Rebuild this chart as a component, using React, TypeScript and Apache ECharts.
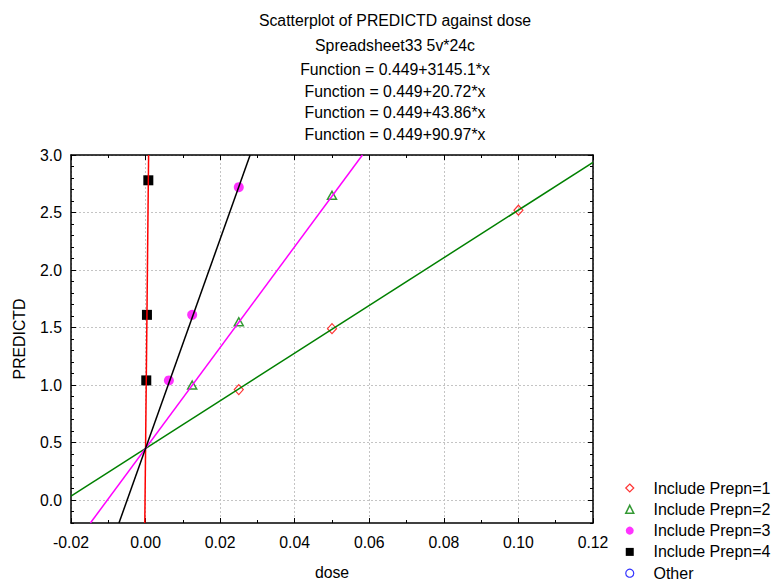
import React, { useEffect, useRef } from 'react';
import * as echarts from 'echarts';

// ---- data ----
const titleLines = [
  'Scatterplot of PREDICTD against dose',
  'Spreadsheet33 5v*24c',
  'Function = 0.449+3145.1*x',
  'Function = 0.449+20.72*x',
  'Function = 0.449+43.86*x',
  'Function = 0.449+90.97*x',
];
const fitIntercept = 0.449;
const fitSlopes = [3145.1, 20.72, 43.86, 90.97];
const fitColors = ['#ff0000', '#008000', '#ff00ff', '#000000'];

const seriesNames = ['Include Prepn=1', 'Include Prepn=2', 'Include Prepn=3', 'Include Prepn=4', 'Other'];
const prep1Dose = [0.025, 0.05, 0.1];
const prep1Pred = [0.96, 1.49, 2.52];
const prep2Dose = [0.0125, 0.025, 0.05];
const prep2Pred = [1.0, 1.55, 2.65];
const prep3Dose = [0.00625, 0.0125, 0.025];
const prep3Pred = [1.04, 1.61, 2.72];
const prep4Dose = [0.00019, 0.00037, 0.00074];
const prep4Pred = [1.04, 1.61, 2.78];

const xMin = -0.02;
const xMax = 0.12;
const xInterval = 0.02;
const yMin = -0.2;
const yMax = 3.0;
const yTickValues = [0, 0.5, 1.0, 1.5, 2.0, 2.5, 3.0];

const FONT = '"Liberation Sans", Arial, sans-serif';
const FS = 15.8;

function zip(xs: number[], ys: number[]) {
  return xs.map((x, i) => [x, ys[i]]);
}

function fitSegment(b: number, m: number) {
  const xa = (yMin - b) / m;
  const xb = (yMax - b) / m;
  const x0 = Math.max(xMin, Math.min(xa, xb));
  const x1 = Math.min(xMax, Math.max(xa, xb));
  return [[x0, b + m * x0], [x1, b + m * x1]];
}

export default function App() {
  const ref = useRef<HTMLDivElement>(null);
  useEffect(() => {
    if (!ref.current) return;
    const chart = echarts.init(ref.current, null, { renderer: 'svg' });
    const axisLine = { show: true, onZero: false, lineStyle: { color: '#000', width: 1.5 } };
    const noAxisLine = { show: false, onZero: false };
    const tickLine = { color: '#000', width: 1 };
    const splitLine = { show: true, lineStyle: { color: '#c4c4c4', width: 1, type: [2, 2] as any } };
    const labelStyle = { color: '#000', fontSize: FS, fontFamily: FONT };

    const xBase = { type: 'value', min: xMin, max: xMax, interval: xInterval };
    const yBase = { type: 'value', min: yMin, max: yMax };

    const lineSeries = fitSlopes.map((m, i) => ({
      type: 'line',
      name: 'fit' + i,
      data: fitSegment(fitIntercept, m),
      symbol: 'none',
      clip: true,
      lineStyle: { color: fitColors[i], width: 1.5 },
      z: 5,
      silent: true,
    }));

    const option: any = {
      animation: false,
      backgroundColor: '#fff',
      graphic: titleLines.map((t, i) => ({
        type: 'text',
        x: 395,
        y: [20.7, 45.7, 69.3, 91, 112.7, 134.3][i],
        style: { text: t, fill: '#000', font: `${FS}px ${FONT}`, align: 'center', verticalAlign: 'middle' },
      })),
      grid: { left: 71, right: 183, top: 155, bottom: 62, containLabel: false },
      legend: {
        orient: 'vertical',
        left: 625,
        top: 480,
        padding: 0,
        itemWidth: 8,
        itemHeight: 8,
        itemGap: 5.3,
        selectedMode: false,
        textStyle: { color: '#000', fontSize: 16, fontFamily: FONT, lineHeight: 16, padding: [0, 0, 0, 14.7] },
        data: [
          { name: seriesNames[0], icon: 'diamond', itemStyle: { color: 'rgba(0,0,0,0)', borderColor: '#ff0000', borderWidth: 1.2 } },
          { name: seriesNames[1], icon: 'triangle', itemStyle: { color: 'rgba(0,0,0,0)', borderColor: '#008000', borderWidth: 1.5 } },
          { name: seriesNames[2], icon: 'circle', itemStyle: { color: '#ff00ff', borderWidth: 0 } },
          { name: seriesNames[3], icon: 'rect', itemStyle: { color: '#000', borderWidth: 0 } },
          { name: seriesNames[4], icon: 'circle', itemStyle: { color: 'rgba(0,0,0,0)', borderColor: '#0000ff', borderWidth: 1.2 } },
        ],
      },
      xAxis: [
        {
          ...xBase,
          position: 'bottom',
          axisLine,
          axisTick: { show: true, inside: true, length: 5, lineStyle: tickLine },
          minorTick: { show: true, splitNumber: 2, length: 3, lineStyle: tickLine },
          axisLabel: { ...labelStyle, margin: 11, formatter: (v: number) => v.toFixed(2) },
          splitLine,
          name: 'dose',
          nameLocation: 'middle',
          nameGap: 41,
          nameTextStyle: labelStyle,
        },
        {
          ...xBase,
          position: 'top',
          axisLine,
          axisTick: { show: true, inside: true, length: 5, lineStyle: tickLine },
          minorTick: { show: true, splitNumber: 2, length: 3, lineStyle: tickLine },
          axisLabel: { show: false },
          splitLine: { show: false },
        },
      ],
      yAxis: [
        {
          ...yBase,
          position: 'left',
          axisLine,
          axisTick: { show: true, inside: true, length: 5, lineStyle: tickLine, customValues: yTickValues },
          axisLabel: { ...labelStyle, margin: 9, customValues: yTickValues, formatter: (v: number) => v.toFixed(1) },
          splitLine,
          name: 'PREDICTD',
          nameLocation: 'middle',
          nameGap: 44,
          nameTextStyle: labelStyle,
        },
        {
          ...yBase,
          interval: 0.1,
          position: 'left',
          axisLine: noAxisLine,
          axisTick: { show: true, inside: true, length: 3, lineStyle: tickLine },
          axisLabel: { show: false },
          splitLine: { show: false },
        },
        {
          ...yBase,
          position: 'right',
          axisLine,
          axisTick: { show: true, inside: true, length: 5, lineStyle: tickLine, customValues: yTickValues },
          axisLabel: { show: false, customValues: yTickValues },
          splitLine: { show: false },
        },
        {
          ...yBase,
          interval: 0.1,
          position: 'right',
          axisLine: noAxisLine,
          axisTick: { show: true, inside: true, length: 3, lineStyle: tickLine },
          axisLabel: { show: false },
          splitLine: { show: false },
        },
      ],
      series: [
        ...lineSeries,
        {
          type: 'scatter', name: seriesNames[0], data: zip(prep1Dose, prep1Pred),
          symbol: 'diamond', symbolSize: [9, 10], z: 3,
          itemStyle: { color: 'rgba(0,0,0,0)', borderColor: '#ff0000', borderWidth: 1.2 },
        },
        {
          type: 'scatter', name: seriesNames[1], data: zip(prep2Dose, prep2Pred),
          symbol: 'triangle', symbolSize: [9, 8], z: 3,
          itemStyle: { color: 'rgba(0,0,0,0)', borderColor: '#008000', borderWidth: 1.5 },
        },
        {
          type: 'scatter', name: seriesNames[2], data: zip(prep3Dose, prep3Pred),
          symbol: 'circle', symbolSize: 10, z: 3,
          itemStyle: { color: '#ff00ff' },
        },
        {
          type: 'scatter', name: seriesNames[3], data: zip(prep4Dose, prep4Pred),
          symbol: 'rect', symbolSize: 10, z: 3,
          itemStyle: { color: '#000', opacity: 1 },
        },
        {
          type: 'scatter', name: seriesNames[4], data: [],
          symbol: 'circle', symbolSize: 9,
          itemStyle: { color: 'rgba(0,0,0,0)', borderColor: '#0000ff', borderWidth: 1.2 },
        },
      ],
    };
    chart.setOption(option);
    return () => chart.dispose();
  }, []);
  return (
    <div
      ref={ref}
      style={{ position: 'fixed', left: 0, top: 0, width: 776, height: 585, background: '#fff' }}
    />
  );
}
